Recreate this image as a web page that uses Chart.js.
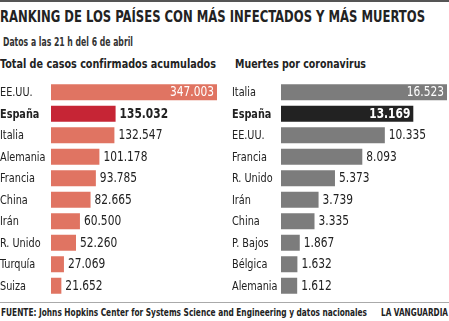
<!DOCTYPE html>
<html lang="es">
<head>
<meta charset="utf-8">
<script src="https://cdn.jsdelivr.net/npm/chart.js@4/dist/chart.umd.min.js"></script>
<style>
  html, body { margin:0; padding:0; background:#fff; }
  body { width:449px; height:321px; position:relative; overflow:hidden;
         font-family:"DejaVu Sans Condensed",sans-serif; color:#222; }
  .topbar { position:absolute; left:0; top:0; width:449px; height:2px; background:#555; }
  .txt { position:absolute; white-space:nowrap; transform-origin:0 0; }
  #title { left:0; top:7px; font-size:16px; font-weight:bold; color:#222; }
  #sub { left:3px; top:34px; font-size:12.5px; font-weight:bold; color:#333; }
  #hLeft { left:0; top:56px; font-size:13px; font-weight:bold; }
  #hRight { left:235px; top:56px; font-size:13px; font-weight:bold; }
  #cLeft { position:absolute; left:0; top:78px; }
  #cRight { position:absolute; left:224px; top:78px; }
  .rule { position:absolute; left:0; top:302px; width:449px; height:1px; background:#aaa; }
  #src { left:1px; top:306px; font-size:10.5px; font-weight:bold; }
  #brand { left:381px; top:306px; font-size:10.5px; font-weight:bold; }
</style>
</head>
<body>
<div class="topbar"></div>
<div class="txt" id="title">RANKING DE LOS PAÍSES CON MÁS INFECTADOS Y MÁS MUERTOS</div>
<div class="txt" id="sub">Datos a las 21 h del 6 de abril</div>
<div class="txt" id="hLeft">Total de casos confirmados acumulados</div>
<div class="txt" id="hRight">Muertes por coronavirus</div>
<canvas id="cLeft" width="224" height="222"></canvas>
<canvas id="cRight" width="225" height="222"></canvas>
<div class="rule"></div>
<div class="txt" id="src">FUENTE: Johns Hopkins Center for Systems Science and Engineering y datos nacionales</div>
<div class="txt" id="brand">LA VANGUARDIA</div>
<script>
// datos
const casosPaises = ['EE.UU.','España','Italia','Alemania','Francia','China','Irán','R. Unido','Turquía','Suiza'];
const casosValores = [347003, 135032, 132547, 101178, 93785, 82665, 60500, 52260, 27069, 21652];
const muertesPaises = ['Italia','España','EE.UU.','Francia','R. Unido','Irán','China','P. Bajos','Bélgica','Alemania'];
const muertesValores = [16523, 13169, 10335, 8093, 5373, 3739, 3335, 1867, 1632, 1612];

const FONT = '"DejaVu Sans Condensed",sans-serif';
const fmt = (v) => String(v).replace(/\B(?=(\d{3})+(?!\d))/g, '.');

// ajustar ancho de textos al original
function fitWidth(id, w){
  const e = document.getElementById(id);
  const cur = e.getBoundingClientRect().width;
  if (cur > 0) e.style.transform = 'scaleX(' + (w / cur) + ')';
}
fitWidth('title', 425);
fitWidth('sub', 130);
fitWidth('hLeft', 216);
fitWidth('hRight', 131);
fitWidth('src', 366);
fitWidth('brand', 67);

// compresión horizontal para imitar la fuente estrecha
const mctx = document.createElement('canvas').getContext('2d');
mctx.font = '13px ' + FONT;
const sxLabel = 45.5 / mctx.measureText('Alemania').width;
mctx.font = '13.5px ' + FONT;
const sxValue = 44 / mctx.measureText('347.003').width;

function narrowText(ctx, text, x, y, sx){
  ctx.save();
  ctx.translate(x, y);
  ctx.scale(sx, 1);
  ctx.fillText(text, 0, 0);
  ctx.restore();
}

// etiquetas de países y valores
const barLabels = {
  id:'barLabels',
  afterDatasetsDraw(chart, args, opts){
    const {ctx} = chart;
    const meta = chart.getDatasetMeta(0);
    const vals = chart.data.datasets[0].data;
    const yScale = chart.scales.y;
    ctx.save();
    ctx.textBaseline = 'middle';
    chart.data.labels.forEach((lab, i) => {
      ctx.font = (i === 1 ? 'bold ' : '') + '13px ' + FONT;
      ctx.fillStyle = '#222';
      ctx.textAlign = 'left';
      narrowText(ctx, lab, opts.labelX, yScale.getPixelForTick(i) + 0.5, sxLabel);
    });
    meta.data.forEach((bar, i) => {
      const inside = i < opts.inside;
      ctx.font = (i === 1 ? 'bold ' : '') + '13.5px ' + FONT;
      ctx.fillStyle = inside ? '#fff' : '#222';
      ctx.textAlign = inside ? 'right' : 'left';
      const x = inside ? bar.x - 3 : bar.x + 4;
      narrowText(ctx, fmt(vals[i]), x, bar.y + 0.5, sxValue);
    });
    ctx.restore();
  }
};

function makeChart(id, labels, values, colors, pad, labelX, inside){
  return new Chart(document.getElementById(id), {
    type:'bar',
    data:{ labels, datasets:[{ data:values, backgroundColor:colors,
      barPercentage:0.74, categoryPercentage:1, borderWidth:0 }] },
    options:{
      indexAxis:'y', responsive:false, animation:false,
      layout:{ padding:pad },
      scales:{
        x:{ display:false, min:0, max:values[0] },
        y:{ display:false }
      },
      plugins:{ legend:{display:false}, tooltip:{enabled:false}, barLabels:{ inside, labelX } }
    },
    plugins:[barLabels]
  });
}

const salmon = '#e07462', rojo = '#c62535', gris = '#7c7c7c', negro = '#222222';
makeChart('cLeft', casosPaises, casosValores,
  casosValores.map((v,i) => i === 1 ? rojo : salmon),
  { left:51, right:7, top:3.5, bottom:3.5 }, 0, 1);
makeChart('cRight', muertesPaises, muertesValores,
  muertesValores.map((v,i) => i === 1 ? negro : gris),
  { left:57, right:2, top:3.5, bottom:3.5 }, 8, 2);
</script>
</body>
</html>
